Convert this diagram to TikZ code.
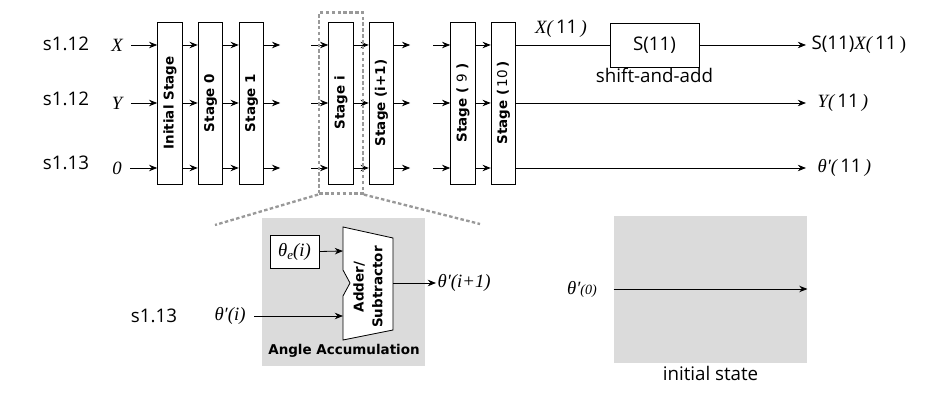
\documentclass[tikz,border=0pt]{standalone}
\usepackage{fontspec}
\setmainfont{Open Sans}
\newfontfamily\tms{Liberation Serif}
\newfontfamily\vdj{DejaVu Sans}
\usetikzlibrary{arrows.meta,fit,positioning}
\begin{document}
\begin{tikzpicture}[x=0.03cm, y=-0.03cm, line width=0.7pt,
  stagebox/.style={draw, fill=white, minimum width=0.74cm, minimum height=4.86cm, inner sep=0pt, font=\vdj\bfseries\fontsize{11.5}{13}\selectfont},
  arr/.style={-{Stealth[length=7pt,width=5.5pt]}},
  mathlbl/.style={font=\tms\itshape\fontsize{16}{18}\selectfont, inner sep=1pt},
  fmtlbl/.style={font=\fontsize{16}{18}\selectfont, inner sep=1pt},
  greybox/.style={fill=black!14, draw=none, inner sep=0pt},
  zoomline/.style={draw=black!40, line width=2pt, dash pattern=on 3pt off 2pt}]
\useasboundingbox (0,0) rectangle (927,402);
% rows
\coordinate (rX) at (0,45);
\coordinate (rY) at (0,103);
\coordinate (rT) at (0,168);
\node[fmtlbl] (fX) at (66,44) {s1.12};
\node[fmtlbl] (fY) at (66,99) {s1.12};
\node[fmtlbl] (fT) at (66,163) {s1.13};
\node[mathlbl] (inX) at (117,45) {X};
\node[mathlbl] (inY) at (117,103) {Y};
\node[mathlbl] (inT) at (117,168) {0};
% stages
\node[stagebox] (st0) at (170,103) {\rotatebox{90}{Initial Stage}};
\node[stagebox] (st1) at (210.5,103) {\rotatebox{90}{Stage 0}};
\node[stagebox] (st2) at (251.5,103) {\rotatebox{90}{Stage 1}};
\node[stagebox] (sti) at (341,103) {\rotatebox{90}{Stage i}};
\node[stagebox] (stj) at (381.5,103) {\rotatebox{90}{Stage (i+1)}};
\node[stagebox] (st9) at (463,103) {\rotatebox{90}{Stage (\ {\mdseries 9}\ )}};
\node[stagebox] (st10) at (503.5,103) {\rotatebox{90}{Stage (\,{\mdseries 10}\,)}};
\foreach \n in {X,Y,T}
  \draw[arr] ([xshift=6pt]in\n.east) -- (st0.west |- in\n);
\foreach \a/\b in {st0/st1,st1/st2,sti/stj,st9/st10}
  \foreach \r in {rX,rY,rT}
    \draw[arr] (\a.east |- \r) -- (\b.west |- \r);
\foreach \r in {rX,rY,rT} {
  \draw[arr] (st2.east |- \r) -- ++(16,0);
  \draw[arr] (sti.west |- \r) ++(-17,0) -- (sti.west |- \r);
  \draw[arr] (stj.east |- \r) -- ++(16,0);
  \draw[arr] (st9.west |- \r) ++(-17,0) -- (st9.west |- \r);
}
% outputs
\coordinate (eX) at (806,45);
\coordinate (eY) at (806,103);
\coordinate (eT) at (806,168);
\node[draw, minimum width=2.67cm, minimum height=1.32cm, fmtlbl] (sh) at (654.5,45) {S(11)};
\node[fmtlbl, below=-1pt of sh] (shl) {shift-and-add};
\node[mathlbl] (x11) at (561,29) {X(\,{\normalfont 11}\,)};
\draw (st10.east |- rX) -- (sh.west);
\draw[arr] (sh.east) -- (eX);
\draw[arr] (st10.east |- rY) -- (eY);
\draw[arr] (st10.east |- rT) -- (eT);
\node[fmtlbl, anchor=west] (oX) at (810,45) {S(11){\tms\itshape X(\,}11{\tms\,)}};
\node[mathlbl, anchor=west] (oY) at (816,103) {Y(\,{\normalfont 11}\,)};
\node[mathlbl, anchor=west] (oT) at (816,168) {θ′(\,{\normalfont 11}\,)};
% zoom of stage i
\node[zoomline, fit=(sti), inner sep=0.27cm] (zm) {};
\coordinate (zl) at (215,225);
\coordinate (zr) at (480,224);
\draw[zoomline] (zm.south west) -- (zl);
\draw[zoomline] (zm.south east) -- (zr);
\node[greybox, minimum width=4.89cm, minimum height=4.44cm] (acc) at (343.5,292) {};
\node[font=\vdj\bfseries\fontsize{11.5}{13}\selectfont] (accl) at (344,351) {Angle Accumulation};
\node[draw, fill=white, minimum width=1.47cm, minimum height=0.99cm, mathlbl] (te) at (294.5,251.5) {θ\raisebox{-0.45ex}{\fontsize{11}{11}\selectfont e}(i)};
\draw[fill=white] (343,227) -- (393,238) -- (393,330) -- (343,340) -- (343,296) -- (350,283) -- (343,270) -- cycle;
\coordinate (a1) at (343,251);
\coordinate (a2) at (343,316);
\coordinate (a3) at (393,283);
\node[font=\vdj\bfseries\fontsize{11.5}{16}\selectfont, align=center, rotate=90] (add) at (368,287) {Adder/\\Subtractor};
\draw[arr] (te.east) -- (a1);
\node[fmtlbl] (fA) at (154,316) {s1.13};
\node[mathlbl] (ti) at (230,316) {θ′(i)};
\draw[arr] ([xshift=6pt]ti.east) -- (a2);
\node[mathlbl, anchor=west] (tj) at (436,283) {θ′(i+1)};
\draw[arr] (a3) -- (tj.west);
% initial state
\node[greybox, minimum width=5.79cm, minimum height=4.41cm] (ist) at (710.5,289.5) {};
\node[fmtlbl, below=1pt of ist] (istl) {initial state};
\node[mathlbl] (t0) at (582,289) {θ′{\fontsize{12}{12}\selectfont(0)}};
\draw[arr] (ist.west |- t0) -- (ist.east |- t0);
\end{tikzpicture}
\end{document}
